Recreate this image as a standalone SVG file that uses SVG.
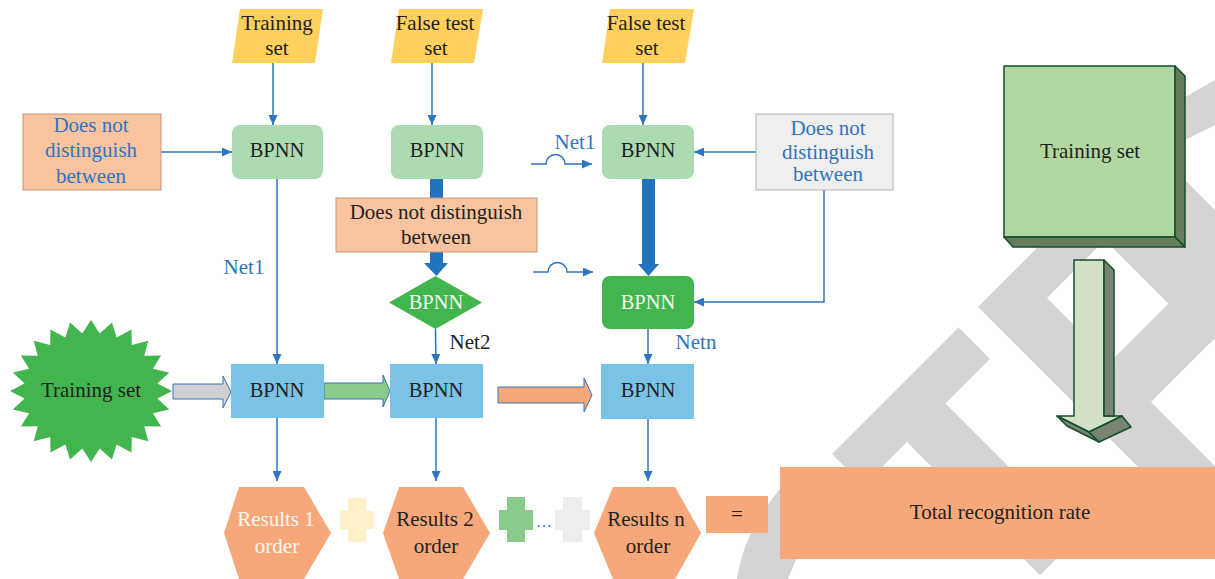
<svg xmlns="http://www.w3.org/2000/svg" width="1215" height="579" viewBox="0 0 1215 579">
<defs>
<marker id="ah" markerUnits="userSpaceOnUse" markerWidth="10" markerHeight="9" refX="10" refY="4.5" orient="auto">
<path d="M0,0 L10,4.5 L0,9 Z" fill="#2E75C0"/>
</marker>
<style>
text{font-family:"Liberation Serif","Times New Roman",serif;font-size:21px;text-anchor:middle;fill:#231F20}
.bp{font-size:20.5px}
.blue{fill:#2E75C0}
.wht{fill:#F2FAF2}
.con{fill:none;stroke:#2E75C0;stroke-width:1.5}
.wm{fill:#D4D4D4}
.para{fill:#FFD15C}
.lg{fill:#ADDBB1}
.dg{fill:#43B54F}
.bl{fill:#7AC2E6}
.or{fill:#F7A87A}
.pe{fill:#F9C3A0;stroke:#C9977A;stroke-width:1}
.gr{fill:#EFEFEF;stroke:#B5B5B5;stroke-width:1}
.blk{stroke:#3A70B8;stroke-width:1}
.e3d{stroke:#134E2B;stroke-width:1.5;stroke-linejoin:round}
</style>
</defs>
<rect width="1215" height="579" fill="#FFFFFF"/>

<g id="watermark">
<path class="wm" d="M737,579 Q745,525 790,478 L830,510 Q800,545 788,579 Z"/>
<polygon class="wm" points="832,454 958.5,327.5 990,359 863.5,485.5"/>
<polygon class="wm" points="907,442 945.5,403.5 1078.5,536.5 1040,575"/>
<polygon class="wm" points="978,307 1142.5,142.5 1172.5,172.5 1047,298 1224.5,475.5 1185.5,514.5"/>
<polygon class="wm" points="1110.5,361.5 1236,236 1276.5,276.5 1151,402"/>
<polygon class="wm" points="1105,240 1175,170 1279,274 1209,344"/>
<polygon class="wm" points="1185,97 1215,80 1215,125 1185,140"/>
</g>

<g id="connectors">
<line class="con" x1="273" y1="63" x2="273" y2="125" marker-end="url(#ah)"/>
<line class="con" x1="432" y1="63" x2="432" y2="125" marker-end="url(#ah)"/>
<line class="con" x1="643" y1="63" x2="643" y2="125" marker-end="url(#ah)"/>
<line class="con" x1="161" y1="152" x2="232" y2="152" marker-end="url(#ah)"/>
<line class="con" x1="277" y1="179" x2="277" y2="364" marker-end="url(#ah)"/>
<line class="con" x1="435.5" y1="329" x2="436" y2="364" marker-end="url(#ah)"/>
<line class="con" x1="756" y1="152" x2="694" y2="152" marker-end="url(#ah)"/>
<path class="con" d="M824,190 V302 H694" marker-end="url(#ah)"/>
<line class="con" x1="648" y1="329" x2="648" y2="364" marker-end="url(#ah)"/>
<path class="con" d="M531,164 H546 A9.5,9.5 0 0 1 565,164 H592" marker-end="url(#ah)"/>
<path class="con" d="M533,272 H548 A9.5,9.5 0 0 1 567,272 H593" marker-end="url(#ah)"/>
<line class="con" x1="277" y1="418" x2="277" y2="481" marker-end="url(#ah)"/>
<line class="con" x1="436" y1="418" x2="436" y2="481" marker-end="url(#ah)"/>
<line class="con" x1="648" y1="419" x2="648" y2="481" marker-end="url(#ah)"/>
<polygon fill="#2372BD" points="430,179 443,179 443,263 448,263 436.5,276 424,263 430,263"/>
<polygon fill="#2372BD" points="642,179 655,179 655,264 659,264 648.5,276 638,264 642,264"/>
<polygon class="blk" fill="#CFD0D4" points="173,384 223,384 223,376 231,392 223,408 223,399 173,399"/>
<polygon class="blk" fill="#88CB8B" points="324,383 383,383 383,375 390,391 383,407 383,399 324,399"/>
<polygon class="blk" fill="#F7A87A" points="498,387 584,387 584,378 592,395 584,412 584,403 498,403"/>
<path d="M1074,260 L1104,260 L1104,416 L1122,416 L1089,432 L1057,416 L1074,416 Z" fill="#D3E0C8" class="e3d"/>
<path d="M1104,260 L1114,270 L1114,416 L1104,416 Z" fill="#7A8472" class="e3d"/>
<path d="M1057,416 L1089,432 L1099,442 L1067,426 Z" fill="#7A8472" class="e3d"/>
<path d="M1089,432 L1122,416 L1131,427 L1099,442 Z" fill="#7A8472" class="e3d"/>
</g>

<g id="in-training">
<polygon class="para" points="240,9 323,9 315,63 232,63"/>
<text x="277" y="30">Training</text>
<text x="277" y="55">set</text>
</g>
<g id="in-false1">
<polygon class="para" points="399,9 483,9 474,63 391,63"/>
<text x="435" y="30">False test</text>
<text x="436" y="55">set</text>
</g>
<g id="in-false2">
<polygon class="para" points="610,9 694,9 685,63 602,63"/>
<text x="646" y="30">False test</text>
<text x="647" y="55">set</text>
</g>

<g id="dnd-left">
<rect class="pe" x="23" y="114" width="138" height="76"/>
<text class="blue" x="91" y="132">Does not</text>
<text class="blue" x="91" y="157">distinguish</text>
<text class="blue" x="91" y="183">between</text>
</g>
<g id="bpnn-top1">
<rect class="lg" x="232" y="125" width="91" height="54" rx="8"/>
<text class="bp" x="277" y="157">BPNN</text>
</g>
<g id="bpnn-top2">
<rect class="lg" x="391" y="125" width="92" height="54" rx="8"/>
<text class="bp" x="437" y="157">BPNN</text>
</g>
<g id="bpnn-top3">
<rect class="lg" x="602" y="125" width="92" height="54" rx="8"/>
<text class="bp" x="648" y="157">BPNN</text>
</g>
<g id="dnd-right">
<rect class="gr" x="756" y="114" width="137" height="76"/>
<text class="blue" x="828" y="135">Does not</text>
<text class="blue" x="828" y="159">distinguish</text>
<text class="blue" x="828" y="181">between</text>
</g>
<g id="dnd-mid">
<rect class="pe" x="336" y="198" width="201" height="54"/>
<text x="436" y="219">Does not distinguish</text>
<text x="436" y="244">between</text>
</g>
<g id="bpnn-diamond">
<polygon class="dg" points="435.5,276 482,302.5 435.5,329 389,302.5"/>
<text class="wht bp" x="436" y="309">BPNN</text>
</g>
<g id="bpnn-darkgreen">
<rect class="dg" x="602" y="276" width="92" height="53" rx="8"/>
<text class="wht bp" x="648" y="309">BPNN</text>
</g>

<g id="labels">
<text class="blue" x="244" y="274">Net1</text>
<text class="blue" x="575" y="149">Net1</text>
<text x="470" y="349">Net2</text>
<text class="blue" x="696" y="349">Netn</text>
</g>

<g id="training-star">
<polygon class="dg" points="91,320 99.7,333.5 112,322.4 116.6,337.4 131.5,329.5 131.8,345 148.3,340.8 144.2,355.7 161.1,355.5 152.9,368.8 169.2,372.6 157.4,383.4 172,391 157.4,398.6 169.2,409.4 152.9,413.2 161.1,426.5 144.2,426.3 148.3,441.2 131.8,437 131.5,452.5 116.6,444.6 112,459.6 99.7,448.5 91,462 82.3,448.5 70,459.6 65.4,444.6 50.5,452.5 50.2,437 33.7,441.2 37.8,426.3 20.9,426.5 29.1,413.2 12.8,409.4 24.6,398.6 10,391 24.6,383.4 12.8,372.6 29.1,368.8 20.9,355.5 37.8,355.7 33.7,340.8 50.2,345 50.5,329.5 65.4,337.4 70,322.4 82.3,333.5"/>
<text x="91" y="397">Training set</text>
</g>

<g id="bpnn-row1">
<rect class="bl" x="231" y="364" width="93" height="54"/>
<text class="bp" x="277" y="397">BPNN</text>
</g>
<g id="bpnn-row2">
<rect class="bl" x="390" y="364" width="93" height="54"/>
<text class="bp" x="436" y="397">BPNN</text>
</g>
<g id="bpnn-row3">
<rect class="bl" x="601" y="364" width="93" height="55"/>
<text class="bp" x="648" y="397">BPNN</text>
</g>

<g id="result1">
<polygon class="or" points="239,487 304,487 331,533 304,579 239,579 224,533"/>
<text style="fill:#FFF6EE" x="276" y="526">Results 1</text>
<text style="fill:#FFF6EE" x="277" y="553">order</text>
</g>
<g id="plus1">
<path fill="#FDEFC8" d="M348,498 H366 V511 H374 V529 H366 V542 H348 V529 H340 V511 H348 Z"/>
</g>
<g id="result2">
<polygon class="or" points="399,487 463,487 490,533 463,579 399,579 383,533"/>
<text x="435" y="526">Results 2</text>
<text x="436" y="553">order</text>
</g>
<g id="plus2">
<path fill="#88CB8B" d="M507,497 H525 V510 H533 V530 H525 V542 H507 V530 H499 V510 H507 Z"/>
</g>
<text class="blue" x="544" y="527" style="font-size:16px">…</text>
<g id="plus3">
<path fill="#EDEDED" d="M563,497 H582 V510 H590 V530 H582 V542 H563 V530 H555 V510 H563 Z"/>
</g>
<g id="result3">
<polygon class="or" points="613,487 675,487 701,533 675,579 613,579 594,533"/>
<text x="646" y="526">Results n</text>
<text x="648" y="553">order</text>
</g>
<g id="equals">
<rect class="or" x="706" y="496" width="62" height="37"/>
<text x="737" y="521">=</text>
</g>
<g id="total">
<rect class="or" x="780" y="467" width="435" height="92"/>
<text x="1000" y="519">Total recognition rate</text>
</g>

<g id="training-3d">
<rect x="1004" y="66" width="171" height="171" fill="#B3D7A0" class="e3d"/>
<polygon points="1175,66 1185,76 1185,247 1175,237" fill="#667C5A" class="e3d"/>
<polygon points="1004,237 1175,237 1185,247 1013,247" fill="#667C5A" class="e3d"/>
<text x="1090" y="158">Training set</text>
</g>
</svg>
